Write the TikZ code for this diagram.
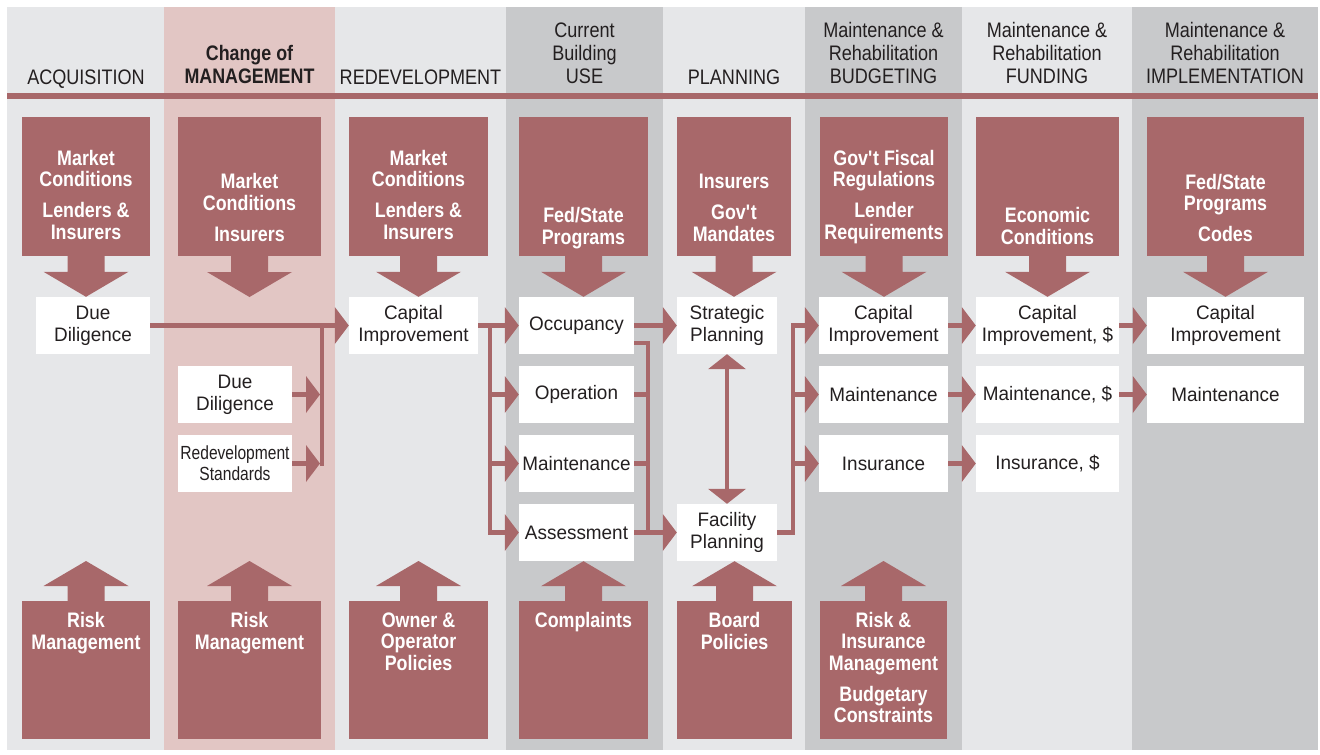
\documentclass[tikz,border=0pt]{standalone}
\usepackage{fontspec}
\setmainfont{Liberation Sans}
\newfontfamily\hdrfont{Liberation Sans}[FakeStretch=0.86]
\newfontfamily\boxfont{Liberation Sans}[FakeStretch=0.97]
\newfontfamily\redfont{Liberation Sans}[FakeStretch=0.85]
\newfontfamily\narrowfont{Liberation Sans}[FakeStretch=0.82]
\usetikzlibrary{arrows.meta,calc}
\definecolor{bglight}{HTML}{E6E7E9}
\definecolor{bgpink}{HTML}{E2C6C4}
\definecolor{bgmid}{HTML}{C8C9CB}
\definecolor{redc}{HTML}{A8686A}
\definecolor{txtdark}{HTML}{231F20}
\tikzset{
  hdr/.style={anchor=south, inner sep=0pt, align=center, text=txtdark, font=\hdrfont\fontsize{21}{23}\selectfont},
  hdrone/.style={hdr, anchor=base},
  hdrbold/.style={hdr, font=\redfont\bfseries\fontsize{21}{23}\selectfont},
  wbox/.style={fill=white, minimum height=57pt, inner sep=0pt, align=center, text=txtdark, font=\boxfont\fontsize{19.5}{22}\selectfont},
  rbox/.style={fill=redc, inner sep=0pt},
  rlab/.style={text=white, align=center, inner sep=0pt, font=\redfont\bfseries\fontsize{21}{21.5}\selectfont},
  conn/.style={draw=redc, line width=4.5pt},
  arr/.style={conn, -{Triangle[length=14pt,width=37pt,line width=0pt]}},
  darr/.style={conn, {Triangle[length=15pt,width=38pt,line width=0pt]}-{Triangle[length=15pt,width=38pt,line width=0pt]}}
}
\newcommand\downblock[2]{%
  \fill[redc] ($(#1.south)+(-18.5,-1)$) -- ($(#1.south)+(18.5,-1)$) -- ($(#1.south |- #2)+(18.5,-25)$) -- ($(#1.south |- #2)+(42.5,-25)$) -- (#1.south |- #2) -- ($(#1.south |- #2)+(-42.5,-25)$) -- ($(#1.south |- #2)+(-18.5,-25)$) -- cycle;}
\newcommand\upblock[2]{%
  \fill[redc] ($(#1.north)+(-18.5,1)$) -- ($(#1.north)+(18.5,1)$) -- ($(#1.north |- #2)+(18.5,25)$) -- ($(#1.north |- #2)+(42.5,25)$) -- (#1.north |- #2) -- ($(#1.north |- #2)+(-42.5,25)$) -- ($(#1.north |- #2)+(-18.5,25)$) -- cycle;}
\begin{document}
\begin{tikzpicture}[x=1pt,y=-1pt]
\useasboundingbox (0,0) rectangle (1320,755);
\fill[white] (0,0) rectangle (1320,755);
% column bands
\fill[bglight] (7,7) rectangle (164,750);
\fill[bgpink] (164,7) rectangle (335,750);
\fill[bglight] (335,7) rectangle (506,750);
\fill[bgmid] (506,7) rectangle (663,750);
\fill[bglight] (663,7) rectangle (805,750);
\fill[bgmid] (805,7) rectangle (962,750);
\fill[bglight] (962,7) rectangle (1132,750);
\fill[bgmid] (1132,7) rectangle (1318,750);
\fill[redc] (7,93) rectangle (1318,99);
% headers
\node[hdrone] (h1) at (86,84) {ACQUISITION};
\node[hdrbold] (h2) at (249.5,84) {Change of\\MANAGEMENT};
\node[hdrone] (h3) at (420.5,84) {REDEVELOPMENT};
\node[hdr] (h4) at (584.5,84) {Current\\Building\\USE};
\node[hdrone] (h5) at (734,84) {PLANNING};
\node[hdr] (h6) at (883.5,84) {Maintenance \&\\Rehabilitation\\BUDGETING};
\node[hdr] (h7) at (1047,84) {Maintenance \&\\Rehabilitation\\FUNDING};
\node[hdr] (h8) at (1225,84) {Maintenance \&\\Rehabilitation\\IMPLEMENTATION};
% helper coordinates
\coordinate (row1) at (0,297);
\coordinate (row4) at (0,561);
% top red boxes
\node[rbox, minimum width=128pt, minimum height=139pt] (t1) at (86,186.5) {};
\node[rbox, minimum width=143pt, minimum height=139pt] (t2) at (249.5,186.5) {};
\node[rbox, minimum width=139pt, minimum height=139pt] (t3) at (418.5,186.5) {};
\node[rbox, minimum width=129pt, minimum height=139pt] (t4) at (583.5,186.5) {};
\node[rbox, minimum width=114pt, minimum height=139pt] (t5) at (734,186.5) {};
\node[rbox, minimum width=128pt, minimum height=139pt] (t6) at (884,186.5) {};
\node[rbox, minimum width=143pt, minimum height=139pt] (t7) at (1047.5,186.5) {};
\node[rbox, minimum width=157pt, minimum height=139pt] (t8) at (1225.5,186.5) {};
% white boxes
\node[wbox, minimum width=114pt] (dd1) at (93,325.5) {Due\\Diligence};
\node[wbox, minimum width=114pt] (dd2) at (235,394.5) {Due\\Diligence};
\node[wbox, minimum width=114pt, font=\narrowfont\fontsize{19}{21}\selectfont] (rs2) at (235,463.5) {Redevelopment\\Standards};
\node[wbox, minimum width=129pt] (ci3) at (413.5,325.5) {Capital\\Improvement};
\node[wbox, minimum width=115pt] (occ) at (576.5,325.5) {Occupancy};
\node[wbox, minimum width=115pt] (op) at (576.5,394.5) {Operation};
\node[wbox, minimum width=115pt] (mt4) at (576.5,463.5) {Maintenance};
\node[wbox, minimum width=115pt] (ass) at (576.5,532.5) {Assessment};
\node[wbox, minimum width=100pt] (strat) at (727,325.5) {Strategic\\Planning};
\node[wbox, minimum width=100pt] (fac) at (727,532.5) {Facility\\Planning};
\node[wbox, minimum width=129pt] (ci6) at (883.5,325.5) {Capital\\Improvement};
\node[wbox, minimum width=129pt] (mt6) at (883.5,394.5) {Maintenance};
\node[wbox, minimum width=129pt] (ins6) at (883.5,463.5) {Insurance};
\node[wbox, minimum width=143pt] (ci7) at (1047.5,325.5) {Capital\\Improvement, \$};
\node[wbox, minimum width=143pt] (mt7) at (1047.5,394.5) {Maintenance, \$};
\node[wbox, minimum width=143pt] (ins7) at (1047.5,463.5) {Insurance, \$};
\node[wbox, minimum width=157pt] (ci8) at (1225.5,325.5) {Capital\\Improvement};
\node[wbox, minimum width=157pt] (mt8) at (1225.5,394.5) {Maintenance};
% bottom red boxes
\node[rbox, minimum width=128pt, minimum height=138pt] (b1) at (86,670) {};
\node[rbox, minimum width=143pt, minimum height=138pt] (b2) at (249.5,670) {};
\node[rbox, minimum width=139pt, minimum height=138pt] (b3) at (418.5,670) {};
\node[rbox, minimum width=129pt, minimum height=138pt] (b4) at (583.5,670) {};
\node[rbox, minimum width=115pt, minimum height=138pt] (b5) at (734.5,670) {};
\node[rbox, minimum width=127pt, minimum height=138pt] (b6) at (883.5,670) {};
% block arrows
\downblock{t1}{dd1.north}
\downblock{t2}{row1}
\downblock{t3}{ci3.north}
\downblock{t4}{occ.north}
\downblock{t5}{strat.north}
\downblock{t6}{ci6.north}
\downblock{t7}{ci7.north}
\downblock{t8}{ci8.north}
\upblock{b1}{row4}
\upblock{b2}{row4}
\upblock{b3}{row4}
\upblock{b4}{ass.south}
\upblock{b5}{fac.south}
\upblock{b6}{row4}
% connectors
\coordinate (bus1) at (322,325.5);
\coordinate (bus1l) at (320,0);
\draw[arr] (dd1.east) -- (ci3.west);
\draw[conn, line cap=rect] (bus1) -- (bus1 |- rs2.east);
\draw[arr] (dd2.east) -- (dd2.east -| bus1l);
\draw[arr] (rs2.east) -- (rs2.east -| bus1l);
\coordinate (bus2) at (490,325.5);
\draw[arr] (ci3.east) -- (occ.west);
\draw[arr] (bus2) |- (op.west);
\draw[arr] (bus2) |- (mt4.west);
\draw[arr] (bus2) |- (ass.west);
\coordinate (bus3) at (648,343);
\draw[arr] (occ.east) -- (strat.west);
\draw[arr] (occ.east |- bus3) -| (bus3 |- fac.west) -- (fac.west);
\draw[conn] (op.east) -- (op.east -| bus3);
\draw[conn] (mt4.east) -- (mt4.east -| bus3);
\draw[conn] (ass.east) -- (ass.east -| bus3);
\draw[darr] (strat.south) -- (fac.north);
\coordinate (bus4) at (793,0);
\draw[arr] (fac.east) -| (bus4 |- ci6.west) -- (ci6.west);
\draw[arr] (bus4 |- mt6.west) -- (mt6.west);
\draw[arr] (bus4 |- ins6.west) -- (ins6.west);
\draw[arr] (ci6.east) -- (ci7.west);
\draw[arr] (mt6.east) -- (mt7.west);
\draw[arr] (ins6.east) -- (ins7.west);
\draw[arr] (ci7.east) -- (ci8.west);
\draw[arr] (mt7.east) -- (mt8.west);
% red labels
\node[rlab] (t1l) at (86,194.8) {Market\\Conditions\\[9.5pt]Lenders \&\\Insurers};
\node[rlab] (t2l) at (249.5,207.3) {Market\\Conditions\\[9.5pt]Insurers};
\node[rlab] (t3l) at (418.5,194.8) {Market\\Conditions\\[9.5pt]Lenders \&\\Insurers};
\node[rlab] (t4l) at (583.5,227.9) {Fed/State\\Programs};
\node[rlab] (t5l) at (734,207.8) {Insurers\\[9.5pt]Gov\textquotesingle t\\Mandates};
\node[rlab] (t6l) at (884,196.9) {Gov\textquotesingle t Fiscal\\Regulations\\[9.5pt]Lender\\Requirements};
\node[rlab] (t7l) at (1047.5,225.8) {Economic\\Conditions};
\node[rlab] (t8l) at (1225.5,207.8) {Fed/State\\Programs\\[9.5pt]Codes};
\node[rlab] (b1l) at (86,632.9) {Risk\\Management};
\node[rlab] (b2l) at (249.5,632.9) {Risk\\Management};
\node[rlab] (b3l) at (418.5,641.3) {Owner \&\\Operator\\Policies};
\node[rlab] (b4l) at (583.5,621.9) {Complaints};
\node[rlab] (b5l) at (734.5,630.8) {Board\\Policies};
\node[rlab] (b6l) at (883.5,667.3) {Risk \&\\Insurance\\Management\\[9.5pt]Budgetary\\Constraints};
\end{tikzpicture}
\end{document}
